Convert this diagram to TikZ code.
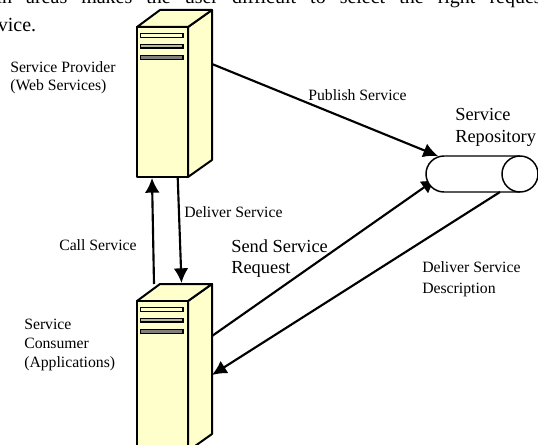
\documentclass[tikz,border=0pt]{standalone}
\usepackage{fontspec}
\setmainfont{Liberation Serif}
\usetikzlibrary{arrows.meta}
\definecolor{srv}{HTML}{FFFFCC}
\tikzset{x=0.75pt,y=-0.75pt,
 lab/.style={inner sep=0pt,align=left,anchor=north west,font=\fontsize{11.8pt}{14pt}\selectfont},
 labb/.style={inner sep=0pt,align=left,anchor=north west,font=\fontsize{13.8pt}{16.4pt}\selectfont},
 top/.style={inner sep=0pt,anchor=base west,font=\fontsize{15pt}{17pt}\selectfont},
 body/.style={draw=black,line width=1.5pt,fill=srv,line join=round},
 slot/.style={draw=black,line width=1.2pt},
 conn/.style={draw=black,line width=1.6pt,-{Latex[length=11pt,width=11pt]}}}
\newcommand{\serverbox}[1]{%
 \begin{scope}[shift={(0,#1)}]
 \draw[body] (188,27) -- (212,10) -- (212,160) -- (188,177) -- cycle;
 \draw[body] (137,27) -- (160,10) -- (212,10) -- (188,27) -- cycle;
 \draw[body] (137,27) rectangle (188,177);
 \draw[slot,fill=srv] (140.5,33.5) rectangle (183,37.5);
 \draw[slot,fill=srv!70!black!90] (140.5,44.5) rectangle (183,48);
 \draw[slot,fill=black!50] (140.5,55.5) rectangle (183,59.5);
 \end{scope}}
\begin{document}
\begin{tikzpicture}
\useasboundingbox (0,0) rectangle (538,445);
\coordinate (s1r) at (212,64);
\coordinate (s1ba) at (152,178);
\coordinate (s1bb) at (177.7,177);
\coordinate (s2ta) at (154,284);
\coordinate (s2tb) at (181.5,283);
\coordinate (s2ra) at (212,336);
\coordinate (s2rb) at (212,375);
\coordinate (ra) at (438,156);
\coordinate (rb) at (436,179);
\coordinate (rc) at (500,192);
\draw[conn] (s2ra) -- (rb);
\begin{scope}
\clip (0,0) rectangle (538,445);
\node[top] (t1) at (-12.5,4) {\spaceskip=10.5pt ain areas makes the user difficult to select the right request};
\node[top] (t2) at (-9,32) {rvice.};
\serverbox{0}
\serverbox{274}
\path[draw=black,line width=1.1pt,fill=white] (444,156) -- (520,156) arc[start angle=90,end angle=-90,x radius=13.5pt,y radius=13.5pt] -- (444,192) arc[start angle=-90,end angle=-270,x radius=13.5pt,y radius=13.5pt] -- cycle;
\draw[line width=1.1pt] (520,156) arc[start angle=90,end angle=270,x radius=13.5pt,y radius=13.5pt];
\end{scope}
\draw[conn] (s1r) -- (ra);
\draw[conn] (s2ta) -- (s1ba);
\draw[conn] (s1bb) -- (s2tb);
\draw[conn] (rc) -- (s2rb);
\node[lab] (a) at (10,61) {Service Provider\\(Web Services)};
\node[lab] (b) at (308,89) {Publish Service};
\node[lab] (c) at (184,206) {Deliver Service};
\node[lab] (d) at (59,239) {Call Service};
\node[lab] (e) at (24,319) {Service\\Consumer\\(Applications)};
\node[lab] (f) at (422,261) {Deliver Service\\[2pt]Description};
\node[labb] (g) at (231,239) {Send Service\\Request};
\node[labb] (h) at (455,108) {Service\\Repository};
\end{tikzpicture}
\end{document}
